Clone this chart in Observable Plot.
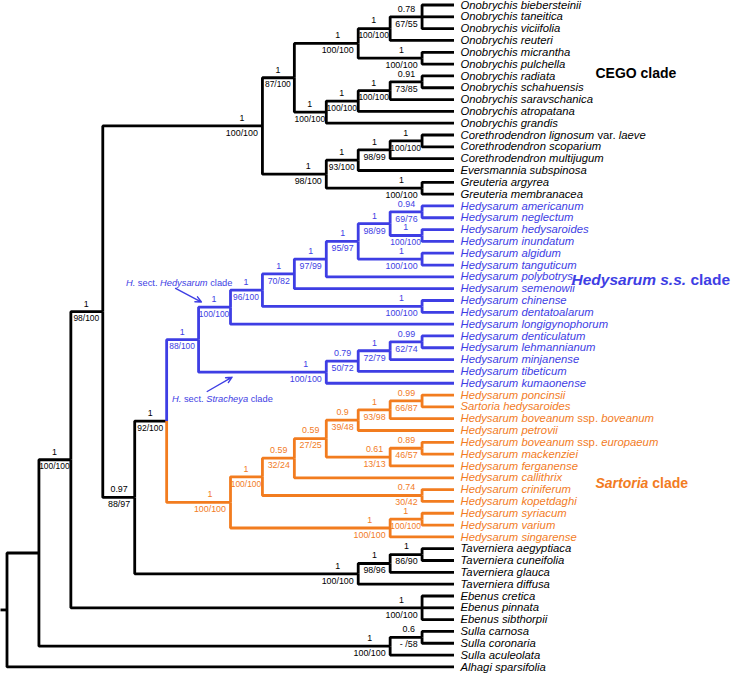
<!DOCTYPE html>
<html><head><meta charset="utf-8">
<script src="https://cdn.jsdelivr.net/npm/d3@7"></script>
<script src="https://cdn.jsdelivr.net/npm/@observablehq/plot@0.6"></script>
<style>
html,body{margin:0;padding:0;background:#fff;}
#chart svg{display:block;}
#chart text{white-space:pre;}
</style></head><body><div id="chart"></div>
<script>
// ---------------- DATA ----------------
// Clades in Newick form; internal node labels are "posterior|bootstrap"
const onobrychisA = "(((Onobrychis biebersteinii,Onobrychis taneitica,Onobrychis viciifolia)0.78|67/55,Onobrychis reuteri)1|100/100,(Onobrychis micrantha,Onobrychis pulchella)1|100/100)1|100/100";
const onobrychisB = "((((Onobrychis radiata,Onobrychis schahuensis)0.91|73/85,Onobrychis saravschanica)1|100/100,Onobrychis atropatana)1|100/100,Onobrychis grandis)1|100/100";
const corethGreuteria = "((((Corethrodendron lignosum var. laeve,Corethrodendron scoparium)1|100/100,Corethrodendron multijugum)1|98/99,Eversmannia subspinosa)1|93/100,(Greuteria argyrea,Greuteria membranacea)1|100/100)1|98/100";
const sectHedysarum = "(((((((Hedysarum americanum,Hedysarum neglectum)0.94|69/76,(Hedysarum hedysaroides,Hedysarum inundatum)1|100/100)1|98/99,(Hedysarum algidum,Hedysarum tanguticum)1|100/100)1|95/97,Hedysarum polybotrys)1|97/99,Hedysarum semenowii)1|70/82,(Hedysarum chinense,Hedysarum dentatoalarum)1|100/100)1|96/100,Hedysarum longigynophorum)1|100/100";
const sectStracheya = "((((Hedysarum denticulatum,Hedysarum lehmannianum)0.99|62/74,Hedysarum minjanense)1|72/79,Hedysarum tibeticum)0.79|50/72,Hedysarum kumaonense)1|100/100";
const sartoria = "(((((((Hedysarum poncinsii,Sartoria hedysaroides)0.99|66/87,Hedysarum boveanum ssp. boveanum)1|93/98,Hedysarum petrovii)0.9|39/48,((Hedysarum boveanum ssp. europaeum,Hedysarum mackenziei)0.89|46/57,Hedysarum ferganense)0.61|13/13)0.59|27/25,Hedysarum callithrix)0.59|32/24,(Hedysarum criniferum,Hedysarum kopetdaghi)0.74|30/42)1|100/100,((Hedysarum syriacum,Hedysarum varium)1|100/100,Hedysarum singarense)1|100/100)1|100/100";
const taverniera = "(((Taverniera aegyptiaca,Taverniera cuneifolia)1|86/90,Taverniera glauca)1|98/96,Taverniera diffusa)1|100/100";
const ebenus = "(Ebenus cretica,Ebenus pinnata,Ebenus sibthorpii)1|100/100";
const sulla = "((Sulla carnosa,Sulla coronaria)0.6|- /58,Sulla aculeolata)1|100/100";
const outgroup = "Alhagi sparsifolia";

const tree =
  `((((((${onobrychisA},${onobrychisB})1|87/100,${corethGreuteria})1|100/100,` +
  `(((${sectHedysarum},${sectStracheya})1|88/100,${sartoria})1|92/100,${taverniera})0.97|88/97)1|98/100,` +
  `${ebenus})1|100/100,${sulla}),${outgroup})`;

// coloured clades: first and last member (top to bottom)
const cladeFirst  = ["Hedysarum americanum", "Hedysarum poncinsii"];
const cladeLast   = ["Hedysarum kumaonense", "Hedysarum singarense"];
const cladeColor  = ["#3e3ee4", "#f27c1f"];

// clade titles and annotations (_..._ = italic)
const cladeTitles = ["CEGO clade", "_Hedysarum s.s._ clade", "_Sartoria_ clade"];
const titleColors = ["#000", "#3e3ee4", "#f27c1f"];
const annotations = ["_H._ sect. _Hedysarum_ clade", "_H._ sect. _Stracheya_ clade"];

// ---------------- LAYOUT ----------------
function parseNewick(s) {
  let i = 0;
  function node() {
    const n = {};
    if (s[i] === "(") {
      i++;
      n.children = [node()];
      while (s[i] === ",") { i++; n.children.push(node()); }
      i++;
    }
    const j = i;
    while (i < s.length && !",)".includes(s[i])) i++;
    const label = s.slice(j, i);
    if (n.children) {
      if (label) { const [p, b] = label.split("|"); n.post = p; n.boot = b; }
    } else n.name = label;
    return n;
  }
  return node();
}

const root = d3.hierarchy(parseNewick(tree));
const leaves = root.leaves();
leaves.forEach((d, i) => d.yi = i);
root.eachAfter(d => {
  if (d.children) d.yi = (d.children[0].yi + d.children[d.children.length - 1].yi) / 2;
  d.level = root.height - d.height;
  const lv = d.leaves();
  d.lo = lv[0].yi; d.hi = lv[lv.length - 1].yi;
});
const nameIndex = new Map(leaves.map(d => [d.data.name, d.yi]));
root.each(d => {
  d.color = "#000";
  cladeFirst.forEach((f, k) => {
    if (d.lo >= nameIndex.get(f) && d.hi <= nameIndex.get(cladeLast[k])) d.color = cladeColor[k];
  });
});

const W = 733, H = 674;
const X0 = 6.5, X1 = 453.5, Y0 = 4.5, Y1 = 666.4;
const ppl = (X1 - X0) / root.height;

const links = root.descendants().filter(d => d.parent).map(d => ({
  x1: d.parent.level, y1: d.parent.yi, x2: d.level, y2: d.yi, color: d.color
}));
links.push({x1: -X0 / ppl, y1: root.yi, x2: 0, y2: root.yi, color: "#000"}); // root stub

const ctx = document.createElement("canvas").getContext("2d");
function textWidth(s, fs) { ctx.font = `${fs}px "Liberation Sans", Arial`; return ctx.measureText(s).width; }
const GAP = 4.5, FS = 8.9;
const supports = root.descendants().filter(d => d.parent && d.data.boot).map(d => {
  let fs = FS, squeeze = false, gap = GAP;
  let w = textWidth(d.data.boot, fs);
  const branch = (d.level - d.parent.level) * ppl;
  if (w > branch - GAP - 0.5) { gap = 3; w = branch - gap - 2; fs = FS * 0.95; squeeze = true; }
  return {cx: d.level - (gap + w / 2) / ppl, yi: d.yi, post: d.data.post, boot: d.data.boot, fs, w, squeeze, color: d.color};
});

const leafData = leaves.map(d => ({x: d.level, y: d.yi, name: d.data.name, color: d.color}));

const titleData = [
  {text: cladeTitles[0], x: 18.43, y: 5.8, size: 14, color: titleColors[0]},
  {text: cladeTitles[1], x: 17.68, y: 23.3, size: 15.5, color: titleColors[1]},
  {text: cladeTitles[2], x: 18.43, y: 40.5, size: 14, color: titleColors[2]}
];
const annoData = [
  {text: annotations[0], x: 7.06, y: 23.5, anchor: "end"},
  {text: annotations[1], x: 5.17, y: 33.3, anchor: "start"}
];
const arrowData = [
  {x1: 5.28, y1: 23.98, x2: 6.09, y2: 25.13},
  {x1: 6.27, y1: 32.7, x2: 7.05, y2: 31.49}
];

const chart = Plot.plot({
  width: W, height: H, margin: 0,
  x: {domain: [0, root.height], range: [X0, X1], axis: null},
  y: {domain: [0, leaves.length - 1], range: [Y0, Y1], axis: null},
  color: {type: "identity"},
  style: {fontFamily: "'Liberation Sans', Arial, sans-serif", background: "#fff", overflow: "visible"},
  marks: [
    Plot.link(links, {x1: "x1", y1: "y1", x2: "x2", y2: "y2", stroke: "color", strokeWidth: 2.8,
      curve: "step-before", strokeLinejoin: "miter", strokeLinecap: "butt"}),
    Plot.text(leafData, {x: "x", y: "y", text: "name", fill: "color", dx: 6.5, textAnchor: "start",
      fontStyle: "italic", fontSize: 11.3}),
    Plot.text(supports, {x: "cx", y: "yi", text: "post", fill: "color", dy: -8, fontSize: FS}),
    Plot.text(supports, {x: "cx", y: "yi", text: "boot", fill: "color", dy: 7, fontSize: d => d.fs, ariaLabel: "bootstrap"}),
    Plot.text(titleData, {x: "x", y: "y", text: "text", fill: "color", fontSize: d => d.size,
      fontWeight: "bold", textAnchor: "start"}),
    Plot.text(annoData.filter(d => d.anchor === "end"), {x: "x", y: "y", text: "text", fill: cladeColor[0], fontSize: 9.3, textAnchor: "end"}),
    Plot.text(annoData.filter(d => d.anchor === "start"), {x: "x", y: "y", text: "text", fill: cladeColor[0], fontSize: 9.3, textAnchor: "start"}),
    Plot.arrow(arrowData, {x1: "x1", y1: "y1", x2: "x2", y2: "y2", stroke: cladeColor[0], strokeWidth: 1.4,
      headLength: 7, headAngle: 50})
  ]
});

// squeeze long bootstrap labels on short branches
const bootGroup = chart.querySelector('g[aria-label="bootstrap"]');
if (bootGroup) {
  bootGroup.querySelectorAll("text").forEach((t, i) => {
    const d = supports[i];
    if (d && d.squeeze) { t.setAttribute("textLength", d.w.toFixed(2)); t.setAttribute("lengthAdjust", "spacingAndGlyphs"); }
  });
}

// mixed italic / upright text as tspans
const SVGNS = "http://www.w3.org/2000/svg";
function setSegments(t, segs) {
  t.textContent = "";
  for (const [s, italic] of segs) {
    const ts = document.createElementNS(SVGNS, "tspan");
    ts.textContent = s;
    ts.setAttribute("font-style", italic ? "italic" : "normal");
    t.appendChild(ts);
  }
}
for (const t of chart.querySelectorAll("text")) {
  const s = t.textContent;
  const m = s.match(/^(.*) (var\.|ssp\.) (.*)$/);
  if (m) setSegments(t, [[m[1] + " ", true], [m[2], false], [" " + m[3], true]]);
  else if (s.includes("_")) setSegments(t, s.split("_").map((p, k) => [p, k % 2 === 1]).filter(p => p[0]));
}

document.getElementById("chart").appendChild(chart);
</script>
</body></html>
